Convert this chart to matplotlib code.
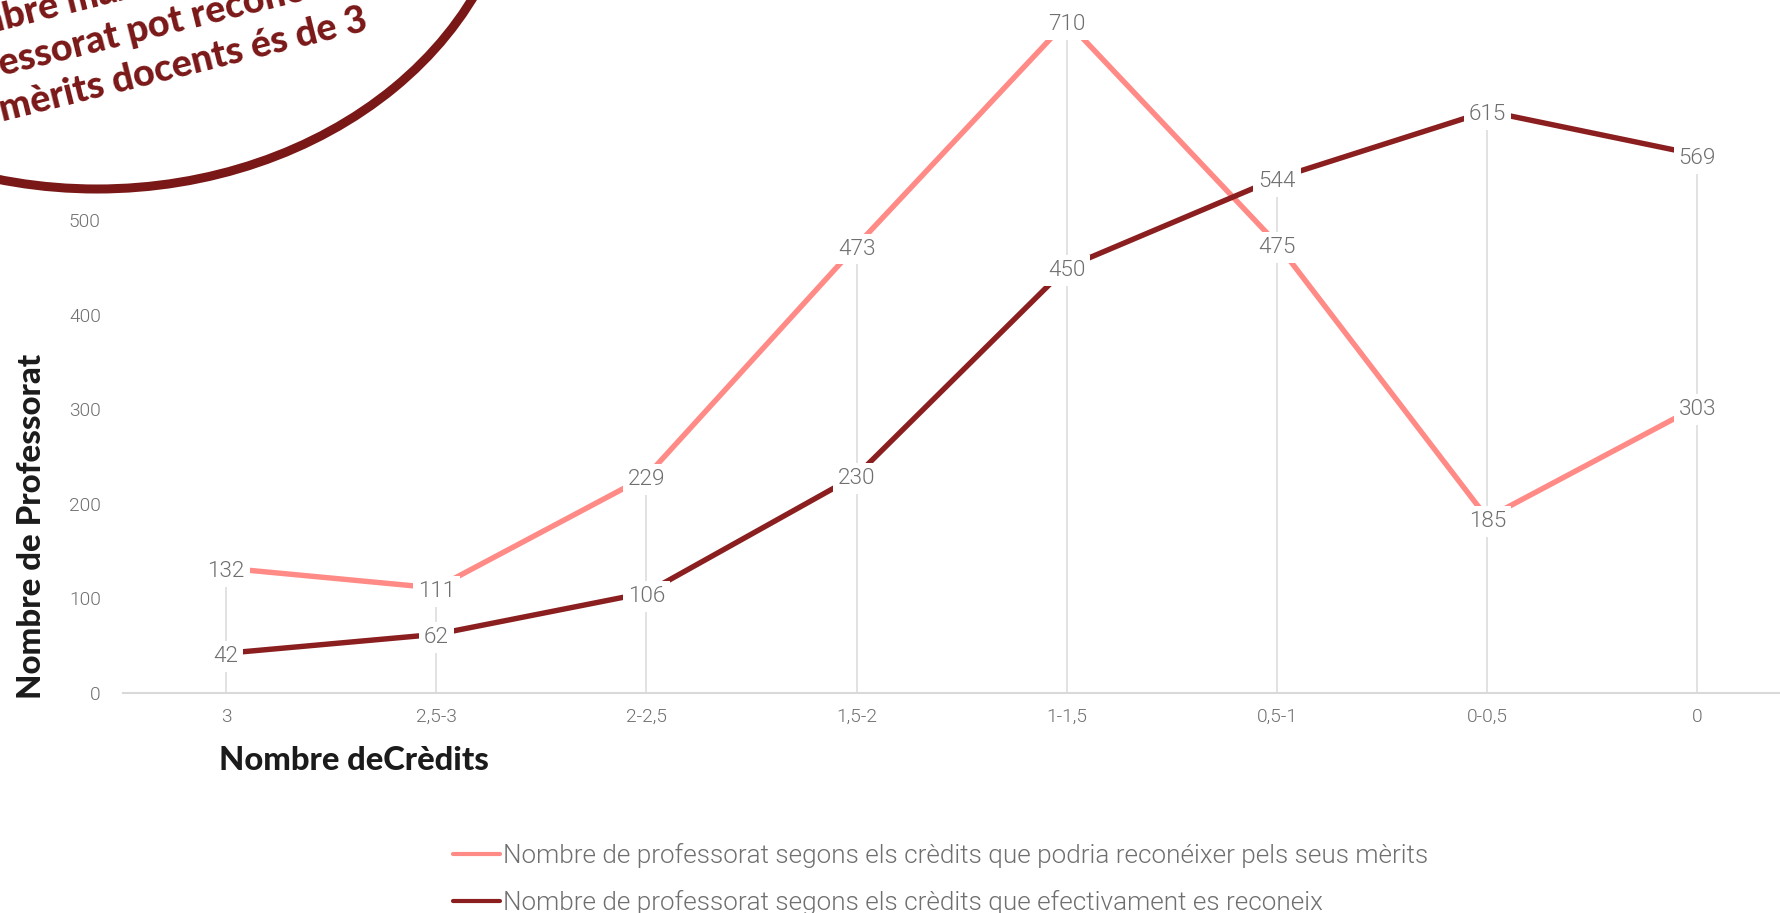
import numpy as np
import matplotlib
matplotlib.use("Agg")
import matplotlib.pyplot as plt
import matplotlib.font_manager as fm
from matplotlib.patches import Ellipse
from matplotlib.textpath import TextPath

# ---------------- data ----------------
categories = ["3", "2,5-3", "2-2,5", "1,5-2", "1-1,5", "0,5-1", "0-0,5", "0"]
podria = [132, 111, 229, 473, 710, 475, 185, 303]
efectiu = [42, 62, 106, 230, 450, 544, 615, 569]
yticks = [0, 100, 200, 300, 400, 500, 600, 700]
legend_labels = [
    "Nombre de professorat segons els crèdits que podria reconéixer pels seus mèrits",
    "Nombre de professorat segons els crèdits que efectivament es reconeix",
]
x_title = "Nombre deCrèdits"
y_title = "Nombre de Professorat"
note_lines = [("El nom", "bre màxim de crèdits que el"),
              ("prof", "essorat pot reconèixer"),
              ("pels ", "mèrits docents és de 3")]

# ---------------- fonts ----------------
W, H = 1781, 913
DPI = 100
names = {}
for f in fm.fontManager.ttflist:
    names.setdefault(f.name, set()).add(f.weight)

def pick_weight(fam, wanted):
    ws = names.get(fam, set())
    for w in wanted:
        if w in ws:
            return w
    return "normal"

LIGHT_FAM = "Roboto" if "Roboto" in names else "DejaVu Sans"
LIGHT_W = pick_weight(LIGHT_FAM, [300, "light", 400, "normal"])
BOLD_FAM = "Lato" if "Lato" in names else LIGHT_FAM
BLACK_W = pick_weight(BOLD_FAM, [900, "black", 800, 700, "bold"])
HEAVY_W = pick_weight(BOLD_FAM, [900, 800, 700, "bold"])

def fp(fam, weight, size=10):
    return fm.FontProperties(family=fam, weight=weight, size=size)

def fit_pt(s, prop, target_px):
    tp = TextPath((0, 0), s, size=10, prop=prop)
    w = tp.get_extents().width * DPI / 72.0
    return 10 * target_px / w

GRAY = "#6F6F6F"
PINK = "#FF8A86"
DARK = "#8B1F20"
WINE = "#7A1818"
INK = "#1B1B1B"

# ---------------- layout (pixels) ----------------
AX_L = 123          # left of axes
AX_Y0 = 693         # y pixel of value 0
X0 = 226            # pixel of first category
DX = 210.2          # px per category
PX_PER_UNIT = 0.946 # px per value unit

fig = plt.figure(figsize=(W / DPI, H / DPI), dpi=DPI)
ax = fig.add_axes([AX_L / W, 1 - AX_Y0 / H, (W - AX_L) / W, AX_Y0 / H])
ax.set_xlim(-(X0 - AX_L) / DX, (W - X0) / DX)
ax.set_ylim(0, AX_Y0 / PX_PER_UNIT)

x = np.arange(len(categories))
maxv = np.maximum(podria, efectiu)
ax.vlines(x, 0, maxv, colors="#DDDDDD", lw=1.2, zorder=1)

l1, = ax.plot(x, podria, color=PINK, lw=3.9, zorder=2, solid_capstyle="round")
l2, = ax.plot(x, efectiu, color=DARK, lw=3.9, zorder=3, solid_capstyle="round")

lab_prop = fp(LIGHT_FAM, LIGHT_W, 16.2)
for series in (podria, efectiu):
    for i, v in enumerate(series):
        ax.annotate(str(v), (i, v), xytext=(0, -2.5), textcoords="offset points",
                    ha="center", va="center", fontproperties=lab_prop,
                    color=GRAY, zorder=6,
                    bbox=dict(boxstyle="square,pad=0.22", fc="white", ec="none"))

for s in ("top", "right", "left"):
    ax.spines[s].set_visible(False)
ax.spines["bottom"].set_color("#D9D9D9")
ax.spines["bottom"].set_linewidth(1.5)

tick_prop = fp(LIGHT_FAM, LIGHT_W, 13.8)
ax.set_xticks(x, categories)
ax.set_yticks(yticks, [str(t) for t in yticks])
for lab in ax.get_xticklabels() + ax.get_yticklabels():
    lab.set_fontproperties(tick_prop)
    lab.set_color(GRAY)
ax.tick_params(axis="x", length=0, pad=11)
ax.tick_params(axis="y", length=0, pad=16)

# axis titles
title_prop = fp(BOLD_FAM, BLACK_W)
tsize = fit_pt(x_title, title_prop, 267)
fig.text(219 / W, 1 - 770 / H, x_title, ha="left", va="baseline",
         fontproperties=fp(BOLD_FAM, BLACK_W, tsize), color=INK)
ysize = fit_pt(y_title, title_prop, 343)
fig.text(41 / W, 1 - 526 / H, y_title, ha="center", va="baseline", rotation=90,
         rotation_mode="anchor", fontproperties=fp(BOLD_FAM, BLACK_W, ysize), color=INK)

# legend
leg_prop0 = fp(LIGHT_FAM, LIGHT_W)
leg_pt = fit_pt(legend_labels[0], leg_prop0, 922)
leg_px = leg_pt * DPI / 72
leg = ax.legend([l1, l2], legend_labels, loc="center left",
                bbox_to_anchor=(453 / W, 1 - 879 / H), bbox_transform=fig.transFigure,
                frameon=False, prop=fp(LIGHT_FAM, LIGHT_W, leg_pt),
                handlelength=47 / leg_px, handletextpad=3 / leg_px,
                labelspacing=0.85, borderpad=0, borderaxespad=0, labelcolor=GRAY)
for h in leg.legend_handles:
    h.set_linewidth(3.0)
    h.set_solid_capstyle("round")

# note bubble (top-left)
cx, cy, a, b = 97, -156, 420, 345
ell = Ellipse((cx / DPI, (H - cy) / DPI), 2 * a / DPI, 2 * b / DPI,
              transform=fig.dpi_scale_trans, fc="white", ec=WINE, lw=6.5, zorder=10)
fig.add_artist(ell)

ANG = 14.0
note_prop0 = fp(BOLD_FAM, HEAVY_W)
nsize = fit_pt(note_lines[2][1], note_prop0, 374)
note_prop = fp(BOLD_FAM, HEAVY_W, nsize)
starts = [(4, 30), (0, 76), (0, 122)]
ca, sa = np.cos(np.radians(ANG)), np.sin(np.radians(ANG))

def adv_px(s):
    wx = TextPath((0, 0), s + "x", size=nsize, prop=note_prop).get_extents().width
    w0 = TextPath((0, 0), "x", size=nsize, prop=note_prop).get_extents().width
    return (wx - w0) * DPI / 72

for (pre, rest), (sx, sy) in zip(note_lines, starts):
    pw = adv_px(pre)
    px = sx - pw * ca
    py = sy + pw * sa
    fig.text(px / W, 1 - py / H, pre + rest, ha="left", va="baseline",
             rotation=ANG, rotation_mode="anchor", fontproperties=note_prop,
             color=WINE, zorder=11)

fig.savefig("out.png", dpi=DPI)
